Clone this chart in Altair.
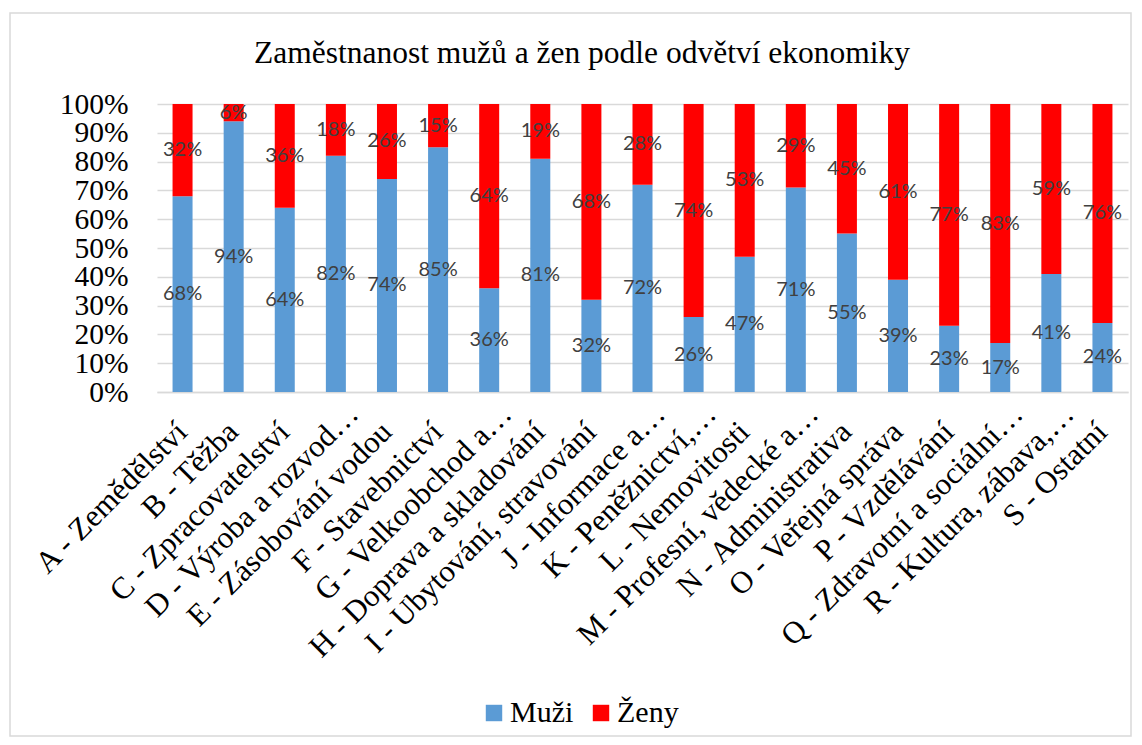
import altair as alt
import pandas as pd

categories = [
    "A - Zemědělství", "B - Těžba", "C - Zpracovatelství", "D - Výroba a rozvod…",
    "E - Zásobování vodou", "F - Stavebnictví", "G - Velkoobchod a…",
    "H - Doprava a skladování", "I - Ubytování, stravování", "J - Informace a…",
    "K - Peněžnictví,…", "L - Nemovitosti", "M - Profesní, vědecké a…",
    "N - Administrativa", "O - Veřejná správa", "P - Vzdělávání",
    "Q - Zdravotní a sociální…", "R - Kultura, zábava,…", "S - Ostatní",
]
muzi = [68, 94, 64, 82, 74, 85, 36, 81, 32, 72, 26, 47, 71, 55, 39, 23, 17, 41, 24]
zeny = [32, 6, 36, 18, 26, 15, 64, 19, 68, 28, 74, 53, 29, 45, 61, 77, 83, 59, 76]
series = ["Muži", "Ženy"]
colors = ["#5B9BD5", "#FF0000"]
y_ticks = [0, 10, 20, 30, 40, 50, 60, 70, 80, 90, 100]
title_text = "Zaměstnanost mužů a žen podle odvětví ekonomiky"

rows = []
for i, c in enumerate(categories):
    rows.append({"cat": c, "series": "Muži", "ord": 0, "value": muzi[i]})
    rows.append({"cat": c, "series": "Ženy", "ord": 1, "value": zeny[i]})
df = pd.DataFrame(rows)

W, H = 971, 288
serif = "Liberation Serif"
ell_test = "indexof(datum.value, '…') >= 0"

x_axis = alt.Axis(labelAngle=-45, labelAlign="right", labelBaseline="middle",
                  labelFont=serif, labelFontSize=31,
                  labelColor="#000000", labelLimit=0, ticks=False,
                  labelOverlap=False,
                  labelPadding={"condition": {"test": ell_test, "value": 17}, "value": 35},
                  labelOffset={"condition": {"test": ell_test, "value": 18}, "value": 0},
                  domainColor="#d9d9d9", domainWidth=1.5, grid=False)
x_scale = alt.Scale(paddingInner=0.0, paddingOuter=0.0)

y_axis = alt.Axis(values=y_ticks, labelExpr="datum.value + '%'",
                  labelFont=serif, labelFontSize=29.5, labelColor="#000000",
                  labelPadding=29, ticks=False, domain=False,
                  labelOverlap=False, labelBound=False,
                  gridColor="#d9d9d9", gridWidth=1.5)
y_scale = alt.Scale(domain=[0, 100], nice=False)

base = alt.Chart(df)

bars = base.mark_bar(size=20).encode(
    x=alt.X("cat:N", sort=categories, title=None, scale=x_scale, axis=x_axis),
    y=alt.Y("value:Q", stack="zero", title=None, scale=y_scale, axis=y_axis),
    color=alt.Color("series:N", scale=alt.Scale(domain=series, range=colors),
                    legend=alt.Legend(title=None, orient="none", legendX=322, legendY=594,
                                      direction="horizontal", symbolType="square",
                                      symbolSize=270, symbolStrokeWidth=0,
                                      labelFont=serif, labelFontSize=30,
                                      labelColor="#000000", columnPadding=12,
                                      labelOffset=1, padding=0)),
    order=alt.Order("ord:Q"),
)

labels = base.transform_stack(
    stack="value", groupby=["cat"], sort=[alt.SortField("ord")], as_=["y0", "y1"]
).transform_calculate(
    mid="(datum.y0 + datum.y1) / 2", lab="datum.value + '%'"
).mark_text(font="Lato", fontSize=20, color="#404040", baseline="middle").encode(
    x=alt.X("cat:N", sort=categories, title=None, scale=x_scale, axis=x_axis),
    y=alt.Y("mid:Q", title=None, scale=y_scale, axis=y_axis),
    text="lab:N",
)

title = alt.Chart(pd.DataFrame({"t": [title_text]})).mark_text(
    font=serif, fontSize=31.5, color="#000000", align="center", baseline="alphabetic"
).encode(x=alt.value(425), y=alt.value(-41), text="t:N")

frame = alt.Chart(pd.DataFrame({"a": [0]})).mark_rect(
    fill=None, stroke="#d9d9d9", strokeWidth=1.5
).encode(x=alt.value(-147), x2=alt.value(974), y=alt.value(-91), y2=alt.value(632))

chart = alt.layer(bars, labels, title, frame).properties(
    width=W, height=H,
    padding={"left": 149, "top": 96, "right": 4, "bottom": 345},
    autosize=alt.AutoSizeParams(type="none"),
).configure(background="white").configure_view(stroke=None)

chart.save("out.html", embed_options={"renderer": "svg", "actions": False})
